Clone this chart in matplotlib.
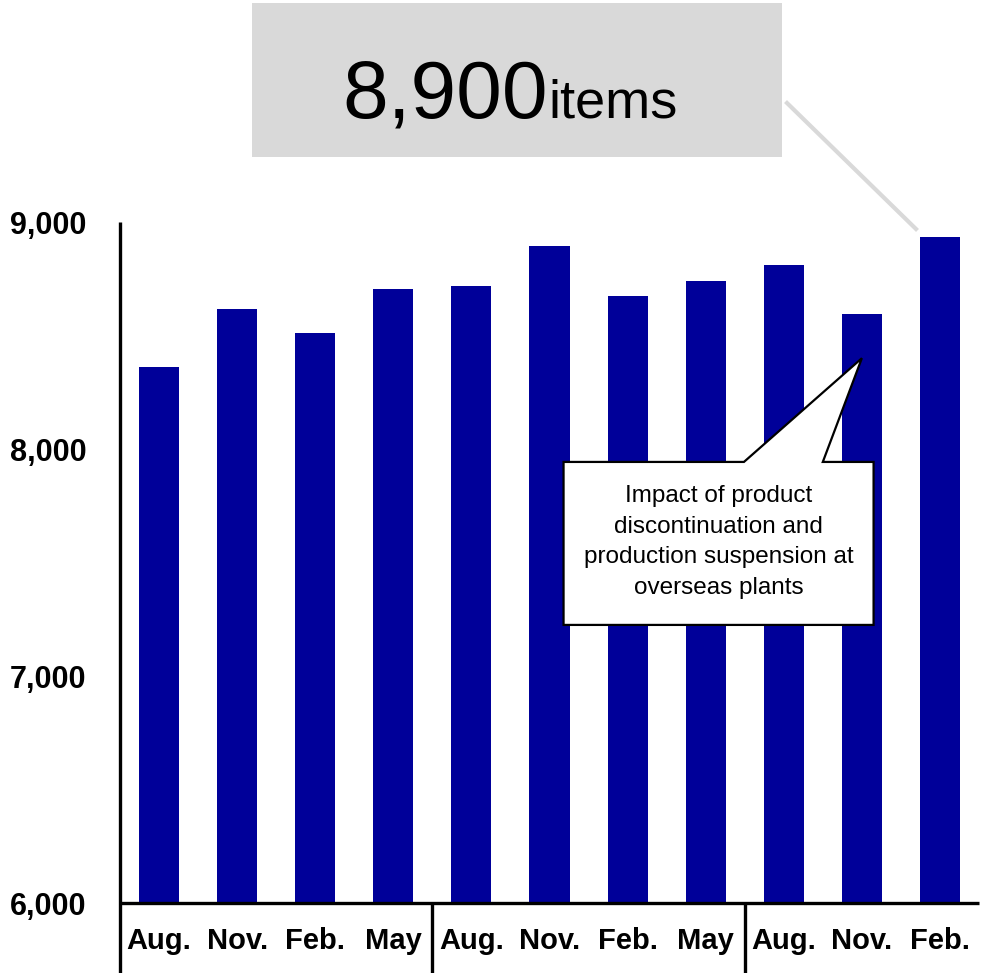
import numpy as np
import matplotlib.pyplot as plt
from matplotlib.patches import Rectangle, Polygon

plt.rcParams['font.family'] = ['Liberation Sans', 'DejaVu Sans']

months = ['Aug.', 'Nov.', 'Feb.', 'May', 'Aug.', 'Nov.', 'Feb.', 'May', 'Aug.', 'Nov.', 'Feb.']
items = [8360, 8617, 8513, 8703, 8717, 8894, 8674, 8740, 8811, 8595, 8934]
group_breaks = [3.5, 7.5]
note = 'Impact of product\ndiscontinuation and\nproduction suspension at\noverseas plants'

W, H = 985, 973
fig = plt.figure(figsize=(W / 100, H / 100), dpi=100)


def fx(px):
    return px / W


def fy(py):
    return 1 - py / H


ax = fig.add_axes([fx(120), fy(903), fx(979) - fx(120), fy(222) - fy(903)])
x = np.arange(len(items))
ax.bar(x, items, width=0.513, color='#000099', zorder=2)
ax.set_xlim(-0.5, len(items) - 0.5)
ax.set_ylim(6000, 9000)

for s in ax.spines.values():
    s.set_visible(False)

# axis lines, extended below the baseline to frame the month row
trans = ax.get_xaxis_transform()
ax.plot([-0.5, -0.5], [-0.103, 1.0], transform=trans, color='black', lw=2.4, clip_on=False, solid_capstyle='butt')
ax.plot([-0.5, len(items) - 0.5], [0, 0], transform=trans, color='black', lw=2.4, clip_on=False, solid_capstyle='butt')
for b in group_breaks:
    ax.plot([b, b], [-0.103, 0], transform=trans, color='black', lw=2.4, clip_on=False, solid_capstyle='butt')

ax.set_yticks([6000, 7000, 8000, 9000])
ax.set_yticklabels([f'{v:,}' for v in [6000, 7000, 8000, 9000]], fontsize=22, fontweight='bold')
ax.tick_params(axis='y', length=0, pad=24)
ax.set_xticks(x)
ax.set_xticklabels(months, fontsize=21, fontweight='bold')
ax.tick_params(axis='x', length=0, pad=17)

# callout pointing at the Nov. dip
tip = (9, 8400)
box = [(5.18, 7943), (7.49, 7943), tip, (8.5, 7943), (9.15, 7943), (9.15, 7225), (5.18, 7225)]
ax.add_patch(Polygon(box, closed=True, facecolor='white', edgecolor='black', lw=1.6, zorder=5))
ax.text(7.165, 7590, note, ha='center', va='center', fontsize=17.5, linespacing=1.5, zorder=6)

# headline box with latest value
fig.patches.append(Rectangle((fx(252), fy(157)), fx(782) - fx(252), fy(3) - fy(157),
                             transform=fig.transFigure, facecolor='#d9d9d9', edgecolor='none'))
latest = f'{round(items[-1], -2):,.0f}'
fig.text(fx(548), fy(117), latest, ha='right', va='baseline', fontsize=59)
fig.text(fx(548), fy(117), 'items', ha='left', va='baseline', fontsize=39)
fig.lines.append(plt.Line2D([fx(787), fx(916)], [fy(103), fy(229)], transform=fig.transFigure,
                            color='#d9d9d9', lw=3))

fig.savefig('out.png', dpi=100)
